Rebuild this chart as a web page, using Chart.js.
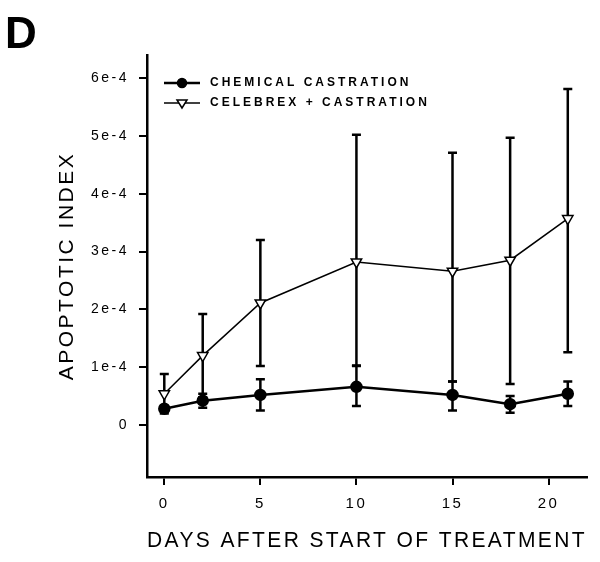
<!DOCTYPE html>
<html>
<head>
<meta charset="utf-8">
<script src="https://cdn.jsdelivr.net/npm/chart.js@4/dist/chart.umd.min.js"></script>
<style>
    html, body { margin: 0; padding: 0; background: #fff; }
    canvas { display: block; }
</style>
</head>
<body>
<canvas id="apopChart" width="600" height="562"></canvas>
<script>
    // days after start of treatment
    var days = [0, 2, 5, 10, 15, 18, 21];

    // apoptotic index, values in units of 1e-4
    var chemMean  = [0.28, 0.42, 0.52, 0.66, 0.52, 0.36, 0.54];
    var chemUpper = [0.31, 0.54, 0.79, 1.03, 0.75, 0.50, 0.75];
    var chemLower = [0.25, 0.30, 0.25, 0.33, 0.25, 0.21, 0.33];

    var celebMean  = [0.54, 1.20, 2.11, 2.82, 2.66, 2.85, 3.57];
    var celebUpper = [0.88, 1.92, 3.20, 5.02, 4.71, 4.97, 5.81];
    var celebLower = [0.20, 0.48, 1.02, 1.02, 0.75, 0.71, 1.26];

    var seriesNames = ["CHEMICAL CASTRATION", "CELEBREX + CASTRATION"];

    var xTicks = [0, 5, 10, 15, 20];
    var yTicks = [0, 1, 2, 3, 4, 5, 6];
    var yTickLabels = ["0", "1e-4", "2e-4", "3e-4", "4e-4", "5e-4", "6e-4"];

    function toPoints(ys) {
        return days.map(function(d, i) { return { x: d, y: ys[i] }; });
    }

    var errorBars = {
        id: "errorBars",
        beforeDraw: function(chart) {
            // the scanned figure has widely spaced lettering
            chart.ctx.letterSpacing = "2.5px";
        },
        beforeDatasetsDraw: function(chart) {
            var ctx = chart.ctx;
            var xs = chart.scales.x, ys = chart.scales.y;
            var sets = [[celebUpper, celebLower], [chemUpper, chemLower]];
            ctx.save();
            ctx.strokeStyle = "#000";
            ctx.lineWidth = 2.5;
            sets.forEach(function(s) {
                days.forEach(function(d, i) {
                    var px = xs.getPixelForValue(d);
                    var top = ys.getPixelForValue(s[0][i]);
                    var bot = ys.getPixelForValue(s[1][i]);
                    ctx.beginPath();
                    ctx.moveTo(px, top); ctx.lineTo(px, bot);
                    ctx.moveTo(px - 4.5, top); ctx.lineTo(px + 4.5, top);
                    ctx.moveTo(px - 4.5, bot); ctx.lineTo(px + 4.5, bot);
                    ctx.stroke();
                });
            });
            ctx.restore();
        },
        afterDraw: function(chart) {
            var ctx = chart.ctx;
            ctx.save();
            // panel letter
            ctx.letterSpacing = "0px";
            ctx.fillStyle = "#000";
            ctx.font = "bold 44px 'Liberation Sans', Arial, sans-serif";
            ctx.textBaseline = "alphabetic";
            ctx.fillText("D", 5, 48);

            // legend
            var rows = [83, 103];
            ctx.letterSpacing = "3px";
            ctx.font = "bold 12px 'Liberation Sans', Arial, sans-serif";
            ctx.textBaseline = "middle";
            rows.forEach(function(y, k) {
                ctx.strokeStyle = "#000";
                ctx.lineWidth = k === 0 ? 2.5 : 1.5;
                ctx.beginPath();
                ctx.moveTo(164, y); ctx.lineTo(200, y);
                ctx.stroke();
                ctx.lineWidth = 1.5;
                ctx.beginPath();
                if (k === 0) {
                    ctx.arc(182, y, 4.5, 0, Math.PI * 2);
                    ctx.fillStyle = "#000";
                } else {
                    ctx.moveTo(177, y - 3); ctx.lineTo(187, y - 3); ctx.lineTo(182, y + 5);
                    ctx.closePath();
                    ctx.fillStyle = "#fff";
                }
                ctx.fill();
                ctx.stroke();
                ctx.fillStyle = "#000";
                ctx.fillText(seriesNames[k], 210, y);
            });
            ctx.restore();
        }
    };

    window.onload = function() {
        var axisFont = "'Liberation Sans', Arial, sans-serif";

        new Chart("apopChart", {
            type: "line",
            data: {
                datasets: [{
                    label: seriesNames[0],
                    data: toPoints(chemMean),
                    borderColor: "#000",
                    borderWidth: 2.5,
                    backgroundColor: "#000",
                    pointBackgroundColor: "#000",
                    pointBorderColor: "#000",
                    pointRadius: 5,
                    pointStyle: "circle",
                    tension: 0
                }, {
                    label: seriesNames[1],
                    data: toPoints(celebMean),
                    borderColor: "#000",
                    borderWidth: 1.5,
                    backgroundColor: "#fff",
                    pointBackgroundColor: "#fff",
                    pointBorderColor: "#000",
                    pointBorderWidth: 1.5,
                    pointRadius: 6,
                    pointStyle: "triangle",
                    rotation: 180,
                    tension: 0
                }]
            },
            options: {
                responsive: false,
                devicePixelRatio: 1,
                animation: false,
                layout: { padding: { left: 0, right: 13, top: 55, bottom: 0 } },
                plugins: {
                    legend: { display: false },
                    tooltip: { enabled: false }
                },
                scales: {
                    x: {
                        type: "linear",
                        min: -0.9,
                        max: 22,
                        afterBuildTicks: function(scale) {
                            scale.ticks = xTicks.map(function(v) { return { value: v }; });
                        },
                        afterFit: function(scale) { scale.height = 85; },
                        border: { color: "#000", width: 2.5 },
                        grid: { drawOnChartArea: false, drawTicks: true, tickLength: 8, color: "#000", lineWidth: 2 },
                        ticks: { color: "#000", padding: 10, maxRotation: 0, font: { family: axisFont, size: 15 } },
                        title: {
                            display: true,
                            text: "DAYS AFTER START OF TREATMENT",
                            color: "#000",
                            font: { family: axisFont, size: 22 },
                            padding: 8
                        }
                    },
                    y: {
                        min: -0.9,
                        max: 6.4,
                        afterBuildTicks: function(scale) {
                            scale.ticks = yTicks.map(function(v) { return { value: v }; });
                        },
                        afterFit: function(scale) { scale.width = 147; },
                        border: { color: "#000", width: 2.5 },
                        grid: { drawOnChartArea: false, drawTicks: true, tickLength: 8, color: "#000", lineWidth: 2 },
                        ticks: {
                            color: "#000",
                            padding: 10,
                            font: { family: axisFont, size: 14 },
                            callback: function(value) {
                                var i = yTicks.indexOf(value);
                                return i >= 0 ? yTickLabels[i] : "";
                            }
                        },
                        title: {
                            display: true,
                            text: "APOPTOTIC INDEX",
                            color: "#000",
                            font: { family: axisFont, size: 21 },
                            padding: 55
                        }
                    }
                }
            },
            plugins: [errorBars]
        });
    };
</script>
</body>
</html>
